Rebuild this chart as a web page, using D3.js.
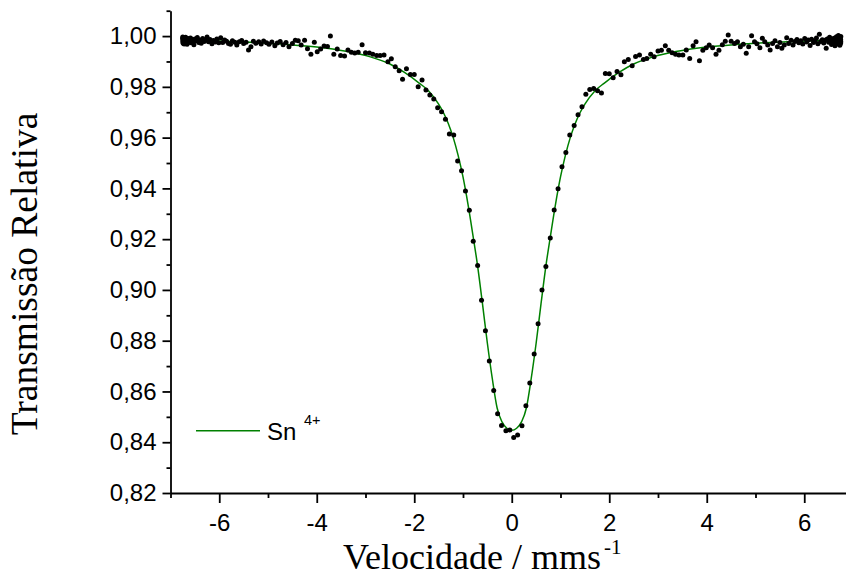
<!DOCTYPE html>
<html><head><meta charset="utf-8">
<script src="https://cdn.jsdelivr.net/npm/d3@7"></script>
<style>body{margin:0;background:#fff}svg{display:block}</style>
</head><body>
<svg id="c" width="846" height="579"></svg>
<script>
// measured points (velocity in mm/s, relative transmission)
const velocity = [
-6.75,-6.749,-6.747,-6.745,-6.74,-6.74,-6.73,-6.72,-6.71,-6.70,
-6.69,-6.68,-6.67,-6.66,-6.64,-6.63,-6.61,-6.59,-6.58,-6.56,
-6.54,-6.52,-6.50,-6.47,-6.45,-6.42,-6.40,-6.37,-6.34,-6.31,
-6.28,-6.25,-6.22,-6.19,-6.15,-6.12,-6.08,-6.05,-6.01,-5.97,
-5.93,-5.89,-5.85,-5.81,-5.77,-5.73,-5.68,-5.64,-5.59,-5.54,
-5.50,-5.45,-5.40,-5.35,-5.30,-5.25,-5.19,-5.14,-5.09,-5.03,
-4.98,-4.92,-4.86,-4.81,-4.75,-4.69,-4.63,-4.57,-4.50,
-4.44,-4.38,-4.32,-4.25,-4.19,-4.12,-4.05,-3.99,-3.92,-3.85,
-3.78,-3.72,-3.65,-3.58,-3.51,-3.43,-3.36,-3.29,-3.22,-3.15,
-3.07,-3.00,-2.92,-2.85,-2.77,-2.70,-2.62,-2.54,-2.47,-2.39,
-2.31,-2.24,-2.16,-2.08,-2.00,-1.92,-1.84,-1.76,-1.68,-1.60,
-1.52,-1.44,-1.36,-1.28,-1.19,-1.11,-1.03,-0.95,-0.87,-0.79,
-0.70,-0.62,-0.54,-0.46,-0.37,-0.29,-0.21,-0.12,-0.04,
0.04,0.12,0.21,0.29,0.37,0.46,0.54,0.62,0.70,0.79,
0.87,0.95,1.03,1.11,1.19,1.28,1.36,1.44,1.52,1.60,
1.68,1.76,1.84,1.92,2.00,2.08,2.16,2.24,2.31,2.39,
2.47,2.54,2.62,2.70,2.77,2.85,2.92,3.00,3.07,3.15,
3.22,3.29,3.36,3.43,3.51,3.58,3.65,3.72,3.78,3.85,
3.92,3.99,4.05,4.12,4.19,4.25,
4.32,4.38,4.44,4.50,4.57,4.63,4.69,4.75,4.81,4.86,
4.92,4.98,5.03,5.09,5.14,5.19,5.25,5.30,5.35,5.40,
5.45,5.50,5.54,5.59,5.64,5.68,5.73,5.77,5.81,5.85,
5.89,5.93,5.97,6.01,6.05,6.08,6.12,6.15,6.19,6.22,
6.25,6.28,6.31,6.34,6.37,6.40,6.42,6.45,6.47,6.50,
6.52,6.54,6.56,6.58,6.59,6.61,6.63,6.64,6.66,6.67,
6.68,6.69,6.70,6.71,6.72,6.73,6.74,6.74,6.745,6.747,
6.749,6.75
];
const transmission = [
.9990,.9996,.9978,.9985,.9972,.9993,.9981,.9969,.9988,.9976,
.9995,.9980,.9986,.9968,.9990,.9977,.9983,.9992,.9974,.9987,
.9979,.9966,.9989,.9982,.9994,.9975,.9985,.9972,.9990,.9979,
.9984,.9996,.9978,.9987,.9970,.9983,.9977,.9989,.9974,.9993,
.9975,.9985,.9980,.9971,.9968,.9982,.9976,.9965,.9978,.9983,
.9971,.9976,.9945,.9958,.9980,.9972,.9978,.9969,.9981,.9974,
.9968,.9977,.9962,.9973,.9979,.9966,.9975,.9958,.9971,
.9984,.9982,.9965,.9984,.9950,.9928,.9976,.9938,.9949,.9961,
.9959,1.0000,.9928,.9949,.9924,.9922,.9945,.9936,.9933,.9936,
.9966,.9934,.9933,.9928,.9924,.9924,.9925,.9899,.9911,.9879,
.9863,.9830,.9871,.9849,.9849,.9800,.9827,.9788,.9768,.9752,
.9718,.9702,.9672,.9614,.9610,.9508,.9469,.9390,.9314,.9192,
.9096,.8959,.8839,.8720,.8604,.8512,.8466,.8445,.8448,
.8419,.8428,.8465,.8544,.8633,.8748,.8867,.9000,.9092,.9205,
.9315,.9399,.9485,.9541,.9610,.9648,.9690,.9722,.9771,.9790,
.9794,.9785,.9776,.9853,.9852,.9836,.9860,.9848,.9899,.9908,
.9883,.9920,.9925,.9908,.9912,.9928,.9919,.9941,.9944,.9962,
.9944,.9934,.9928,.9925,.9925,.9945,.9912,.9962,.9978,.9903,
.9944,.9954,.9965,.9954,.9928,.9944,
.9966,.9980,1.0004,.9980,.9971,.9978,.9958,.9968,.9932,.9958,
1.0001,.9978,.9970,.9954,.9991,.9978,.9965,.9945,.9971,.9982,
.9958,.9975,.9952,.9965,.9993,.9971,.9984,.9965,.9979,.9987,
.9974,.9982,.9969,.9990,.9977,.9985,.9963,.9988,.9975,.9981,
.9992,.9970,1.0007,.9979,.9986,.9973,.9984,.9952,.9989,.9976,
.9995,.9980,.9967,.9988,.9974,.9991,.9962,.9983,.9997,.9976,
.9986,.9969,1.0002,.9979,.9990,.9964,.9983,.9994,.9972,.9986,
.9978,.9998
];
// fitted Sn4+ line
const fitVelocity = [-6.75,-5.9,-5.2,-4.6,-4.0,-3.4,-2.9,-2.5,-2.2,-1.9,-1.7,-1.5,-1.4,-1.3,-1.2,-1.1,-1.0,-0.9,-0.8,-0.7,-0.6,-0.5,-0.4,-0.3,-0.2,-0.1,0,
0.1,0.2,0.3,0.4,0.5,0.6,0.7,0.8,0.9,1.0,1.1,1.2,1.3,1.4,1.5,1.7,1.9,2.2,2.5,2.9,3.4,4.0,4.6,5.2,5.9,6.75];
const fitTransmission = [.9984,.9980,.9974,.9967,.9957,.9940,.9918,.9890,.9857,.9815,.9783,.9732,.9698,.9655,.9600,.9530,.9445,.9340,.9220,.9094,.8945,.8790,.8652,.8535,.8480,.8455,.8447,
.8455,.8480,.8535,.8652,.8790,.8945,.9094,.9220,.9340,.9445,.9530,.9600,.9655,.9698,.9732,.9783,.9815,.9857,.9890,.9918,.9940,.9957,.9967,.9974,.9980,.9984];

const xMajorTicks = [-6,-4,-2,0,2,4,6];
const xMinorTicks = [-7,-5,-3,-1,1,3,5,7];
const yMajorTicks = [0.82,0.84,0.86,0.88,0.90,0.92,0.94,0.96,0.98,1.00];
const yMinorTicks = [0.83,0.85,0.87,0.89,0.91,0.93,0.95,0.97,0.99,1.01];
const xTitle = "Velocidade / mms";
const xTitleSup = "-1";
const yTitle = "Transmissão Relativa";
const legendName = "Sn";
const legendSup = "4+";

const svg = d3.select("#c");
const x = d3.scaleLinear().domain([-7, 7]).range([170.5, 853]);
const y = d3.scaleLinear().domain([0.82, 1.01]).range([493, 10.7]);
const sans = "'Liberation Sans', Arial, sans-serif";
const serif = "'Liberation Serif', 'Times New Roman', serif";
const green = "#008000";

// fit line
svg.append("path")
  .datum(fitVelocity.map((v, i) => [v, fitTransmission[i]]))
  .attr("fill", "none").attr("stroke", green).attr("stroke-width", 1.5)
  .attr("d", d3.line().x(d => x(d[0])).y(d => y(d[1])).curve(d3.curveMonotoneX));

// points
svg.append("g").selectAll("circle")
  .data(velocity.map((v, i) => [v, transmission[i]]))
  .join("circle")
  .attr("cx", d => x(d[0])).attr("cy", d => y(d[1])).attr("r", 2.5).attr("fill", "#000");

const fmt = d => d3.format(".2f")(d).replace(".", ",");

// y axis
const gy = svg.append("g").attr("transform", "translate(170.5,0)");
gy.call(d3.axisLeft(y).tickValues(yMajorTicks).tickSize(8).tickSizeOuter(0).tickPadding(6).tickFormat(fmt));
const gym = svg.append("g").attr("transform", "translate(170.5,0)");
gym.call(d3.axisLeft(y).tickValues(yMinorTicks).tickSize(4).tickSizeOuter(0).tickFormat(""));
gym.select(".domain").remove();

// x axis
const gx = svg.append("g").attr("transform", "translate(0,493)");
gx.call(d3.axisBottom(x).tickValues(xMajorTicks).tickSize(10).tickSizeOuter(0).tickFormat(d => String(d)));
const gxm = svg.append("g").attr("transform", "translate(0,493)");
gxm.call(d3.axisBottom(x).tickValues(xMinorTicks).tickSize(5).tickSizeOuter(0).tickFormat(""));
gxm.select(".domain").remove();
gx.selectAll("text").attr("dy", null).attr("y", 38);

svg.selectAll(".domain, .tick line").attr("stroke", "#000").attr("stroke-width", 1.8);
svg.selectAll(".tick text").attr("fill", "#000").style("font-family", sans).style("font-size", "24px");

// titles
svg.append("text")
  .attr("transform", "translate(37,274) rotate(-90)")
  .attr("text-anchor", "middle")
  .style("font-family", serif).style("font-size", "37.5px").attr("fill", "#000")
  .text(yTitle);

const xt = svg.append("text").attr("x", 343).attr("y", 569)
  .style("font-family", serif).style("font-size", "36px").attr("fill", "#000");
xt.append("tspan").text(xTitle);
xt.append("tspan").attr("dx", 3).attr("dy", -15).style("font-size", "21px").text(xTitleSup);

// legend
svg.append("line").attr("x1", 196).attr("x2", 260).attr("y1", 430.7).attr("y2", 430.7)
  .attr("stroke", green).attr("stroke-width", 1.5);
svg.append("text").attr("x", 267).attr("y", 440)
  .style("font-family", sans).style("font-size", "24px").attr("fill", "#000").text(legendName);
svg.append("text").attr("x", 304).attr("y", 425)
  .style("font-family", sans).style("font-size", "14.5px").attr("fill", "#000").text(legendSup);
</script>
</body></html>
